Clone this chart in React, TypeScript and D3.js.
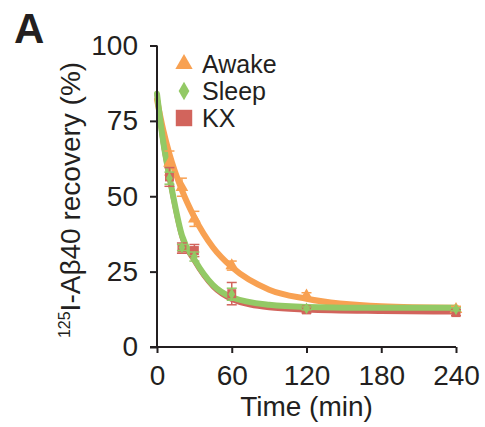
import { useEffect, useRef } from "react";
import * as d3 from "d3";

// measured time points (min)
const TIMES = [10, 20, 30, 60, 120, 240];

const AWAKE = [61, 53, 42.5, 27, 17, 12.5];
const AWAKE_ERR = [4, 3, 2.5, 1.5, 1, 1];
const SLEEP = [56, 33, 30, 17.5, 12.8, 12.5];
const SLEEP_ERR = [2, 1, 1.5, 2, 0.5, 0.5];
const KX = [56.4, 32.8, 32, 17.7, 12.3, 11.4];
const KX_ERR = [3.1, 1.7, 2, 3.7, 1, 1];

// fitted decay curves
const CURVE_T = [0, 5, 10, 20, 30, 45, 60, 90, 120, 180, 240];
const AWAKE_FIT = [82, 72, 64, 52, 43, 33, 26.5, 19, 16, 13.5, 13];
const SLEEP_FIT = [84, 68, 56.5, 37, 29, 20.5, 16.5, 14, 13.3, 13, 13];
const KX_FIT = [83.5, 67.5, 56, 36.5, 28.5, 20, 15.8, 13, 12.3, 11.8, 11.6];

const X_TICKS = [0, 60, 120, 180, 240];
const Y_TICKS = [0, 25, 50, 75, 100];

const ORANGE = "#f8a152";
const GREEN = "#93c965";
const RED = "#d2645c";
const INK = "#231f20";
const FONT = "'Liberation Sans', Arial, sans-serif";

const W = 485;
const H = 427;

export default function App() {
  const svgRef = useRef<SVGSVGElement>(null);

  useEffect(() => {
    const svg = d3.select(svgRef.current);
    svg.selectAll("*").remove();

    const x = d3.scaleLinear().domain([0, 240]).range([157, 456]);
    const y = d3.scaleLinear().domain([0, 100]).range([347, 45.5]);

    svg.attr("width", W).attr("height", H);

    // panel letter
    svg
      .append("text")
      .attr("x", 14)
      .attr("y", 43)
      .attr("font-family", FONT)
      .attr("font-weight", "bold")
      .attr("font-size", 42)
      .attr("fill", INK)
      .text("A");

    // curves
    const line = d3
      .line<[number, number]>()
      .x((d) => x(d[0]))
      .y((d) => y(d[1]))
      .curve(d3.curveMonotoneX);

    const fits: [number[], string, number][] = [
      [AWAKE_FIT, ORANGE, 6],
      [KX_FIT, RED, 5],
      [SLEEP_FIT, GREEN, 6],
    ];
    for (const [vals, col, w] of fits) {
      svg
        .append("path")
        .datum(CURVE_T.map((t, i) => [t, vals[i]] as [number, number]))
        .attr("d", line)
        .attr("fill", "none")
        .attr("stroke", col)
        .attr("stroke-width", w)
        .attr("stroke-linecap", "round");
    }

    // error bars + markers
    const series: [number[], number[], string, d3.SymbolType, number][] = [
      [AWAKE, AWAKE_ERR, ORANGE, d3.symbolTriangle, 70],
      [KX, KX_ERR, RED, d3.symbolSquare, 80],
      [SLEEP, SLEEP_ERR, GREEN, d3.symbolDiamond, 40],
    ];
    for (const [vals, errs, col, sym, size] of series) {
      const g = svg.append("g");
      TIMES.forEach((t, i) => {
        const cx = x(t);
        const y0 = y(vals[i] - errs[i]);
        const y1 = y(vals[i] + errs[i]);
        g.append("line")
          .attr("x1", cx).attr("x2", cx)
          .attr("y1", y0).attr("y2", y1)
          .attr("stroke", col).attr("stroke-width", 1.5);
        for (const yy of [y0, y1]) {
          g.append("line")
            .attr("x1", cx - 5).attr("x2", cx + 5)
            .attr("y1", yy).attr("y2", yy)
            .attr("stroke", col).attr("stroke-width", 1.5);
        }
        g.append("path")
          .attr("d", d3.symbol().type(sym).size(size)())
          .attr("transform", `translate(${cx},${y(vals[i])})`)
          .attr("fill", col);
      });
    }

    // axes
    const yAxis = svg
      .append("g")
      .attr("transform", `translate(${x(0)},0)`)
      .call(d3.axisLeft(y).tickValues(Y_TICKS).tickSize(7).tickPadding(12));
    const xAxis = svg
      .append("g")
      .attr("transform", `translate(0,${y(0)})`)
      .call(d3.axisBottom(x).tickValues(X_TICKS).tickSize(6).tickPadding(12));

    for (const ax of [yAxis, xAxis]) {
      ax.select(".domain").attr("stroke", INK).attr("stroke-width", 2);
      ax.selectAll(".tick line").attr("stroke", INK).attr("stroke-width", 2);
      ax.selectAll(".tick text")
        .attr("fill", INK)
        .attr("font-size", 28)
        .attr("font-family", FONT);
    }
    // outward ticks without the end caps of the domain path
    yAxis.select(".domain").attr("d", `M0,${y(100)}V${y(0)}`);
    xAxis.select(".domain").attr("d", `M${x(0) - 7},0H${x(240)}`);

    // axis titles
    svg
      .append("text")
      .attr("x", (x(0) + x(240)) / 2)
      .attr("y", 416)
      .attr("text-anchor", "middle")
      .attr("font-family", FONT)
      .attr("font-size", 28)
      .attr("fill", INK)
      .text("Time (min)");

    const yt = svg
      .append("text")
      .attr("transform", `translate(80,200) rotate(-90)`)
      .attr("text-anchor", "middle")
      .attr("font-family", FONT)
      .attr("font-size", 28)
      .attr("fill", INK);
    yt.append("tspan").attr("font-size", 16).attr("dy", -10).text("125");
    yt.append("tspan").attr("dy", 10).text("I-Aβ40 recovery (%)");

    // legend
    const legend: [string, string, d3.SymbolType, number][] = [
      ["Awake", ORANGE, d3.symbolTriangle, 130],
      ["Sleep", GREEN, d3.symbolDiamond, 100],
      ["KX", RED, d3.symbolSquare, 270],
    ];
    legend.forEach(([name, col, sym, size], i) => {
      const cy = 64 + i * 27;
      svg
        .append("path")
        .attr("d", d3.symbol().type(sym).size(size)())
        .attr("transform", `translate(184,${cy})`)
        .attr("fill", col);
      svg
        .append("text")
        .attr("x", 202)
        .attr("y", cy + 9)
        .attr("font-family", FONT)
        .attr("font-size", 25)
        .attr("fill", INK)
        .text(name);
    });
  }, []);

  return (
    <svg
      ref={svgRef}
      style={{ position: "absolute", left: 0, top: 0, background: "#fff" }}
    />
  );
}
